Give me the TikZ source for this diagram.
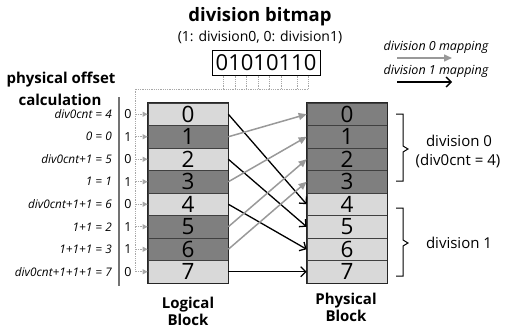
\documentclass[tikz,border=0pt]{standalone}
\usepackage{fontspec}
\setmainfont{Open Sans}
\usetikzlibrary{arrows.meta}
\definecolor{darkc}{HTML}{7F7F7F}
\definecolor{lightc}{HTML}{D9D9D9}
\definecolor{arrgray}{HTML}{999999}
\definecolor{dotgray}{HTML}{A8A8A8}
\begin{document}
\begin{tikzpicture}[x=1pt,y=-1pt,
  cell/.style={draw=black!75, line width=0.7pt, minimum width=80pt, minimum height=22.5pt, inner sep=0pt, text height=16pt, text depth=0pt, font=\fontsize{22.5}{22.5}\selectfont},
  offs/.style={anchor=east, font=\fontsize{11.8}{12}\selectfont\itshape, inner sep=0pt},
  bitc/.style={font=\fontsize{12.5}{12.5}\selectfont, inner sep=0pt},
  map0/.style={draw=arrgray, line width=1.5pt, -{Triangle[length=8pt,width=7pt]}},
  map1/.style={draw=black, line width=1.3pt, -{Straight Barb[length=5pt,width=10pt]}},
  feed/.style={draw=dotgray, densely dotted, line width=0.8pt, -{Triangle[length=5pt,width=5pt,fill=dotgray]}},
  bus/.style={draw=dotgray, densely dotted, line width=0.8pt},
  brk/.style={draw=black, line width=1pt},
  title/.style={font=\fontsize{18.5}{18.5}\selectfont\bfseries, inner sep=0pt},
  lbl/.style={font=\fontsize{15}{15}\selectfont\bfseries, inner sep=0pt, align=center},
  divtxt/.style={font=\fontsize{15}{15}\selectfont, inner sep=0pt},
  legtxt/.style={font=\fontsize{12.5}{12.5}\selectfont\itshape, inner sep=0pt}
]
\useasboundingbox (0,0) rectangle (505,332);

% titles
\node[title] (ttl) at (260,17) {division bitmap};
\node[font=\fontsize{14}{14}\selectfont, inner sep=0pt] (sub) at (260,37) {(1: division0, 0: division1)};
\node[draw=black, line width=1pt, minimum width=108pt, minimum height=25pt, inner sep=0pt,
      font=\fontsize{22}{22}\selectfont] (bm) at (266,62.5) {01010110};

\node[lbl] (poc1) at (61,80) {physical offset};
\node[lbl] (poc2) at (60,100) {calculation};

% legend
\node[legtxt] (leg0) at (436,47) {division 0 mapping};
\node[legtxt] (leg1) at (436,71) {division 1 mapping};
\coordinate (g0s) at (397,58); \coordinate (g0e) at (452,58);
\coordinate (g1s) at (397,82); \coordinate (g1e) at (452,82);
\draw[map0] (g0s) -- (g0e);
\draw[map1] (g1s) -- (g1e);

% blocks
\foreach \i/\f in {0/lightc,1/darkc,2/lightc,3/darkc,4/lightc,5/darkc,6/darkc,7/lightc}{
  \node[cell, fill=\f] (L\i) at (188,{114.25+22.5*\i}) {\i};
}
\foreach \i/\f in {0/darkc,1/darkc,2/darkc,3/darkc,4/lightc,5/lightc,6/lightc,7/lightc}{
  \node[cell, fill=\f] (R\i) at (347,{114.25+22.5*\i}) {\i};
}
\draw[line width=1.3pt, black!85] (L0.north west) rectangle (L7.south east);
\draw[line width=1.3pt, black!85] (R0.north west) rectangle (R7.south east);

\node[lbl] (lb) at (188,311) {Logical\\[2pt]Block};
\node[lbl] (pb) at (346,307) {Physical\\[2pt]Block};

% offsets and bits
\foreach \i/\t/\b in {0/{div0cnt = 4}/0, 1/{0 = 0}/1, 2/{div0cnt+1 = 5}/0, 3/{1 = 1}/1,
                      4/{div0cnt+1+1 = 6}/0, 5/{1+1 = 2}/1, 6/{1+1+1 = 3}/1, 7/{div0cnt+1+1+1 = 7}/0}{
  \node[offs] (o\i) at (112,{114.25+22.5*\i}) {\t};
  \node[bitc] (b\i) at (128,{114.25+22.5*\i}) {\b};
  \coordinate (f\i) at (136,{114.25+22.5*\i});
  \draw[feed] (f\i) -- (L\i.west);
}
\coordinate (vt) at (119,97); \coordinate (vb) at (119,286);
\draw[draw=black!55, line width=1.5pt] (vt) -- (vb);

% bus from bitmap
\coordinate (busL) at (135,89);
\coordinate (busR) at (308,89);
\coordinate (busB) at (135,272);
\draw[bus] (busR) -- (busL) -- (busB);
\foreach \x in {223,235,246.5,258,269.5,281,297,308}{
  \draw[bus] (bm.south -| \x,0) -- (\x,89);
}

% mappings
\draw[map1] (L0.east) -- (R4.west);
\draw[map1] (L2.east) -- (R5.west);
\draw[map1] (L4.east) -- (R6.west);
\draw[map1] (L7.east) -- (R7.west);
\draw[map0] (L1.east) -- (R0.west);
\draw[map0] (L3.east) -- (R1.west);
\draw[map0] (L5.east) -- (R2.west);
\draw[map0] (L6.east) -- (R3.west);

% brackets
\coordinate (a1) at (396,114); \coordinate (a2) at (403,114); \coordinate (a3) at (403,146);
\coordinate (a4) at (408,149); \coordinate (a5) at (403,152); \coordinate (a6) at (403,181); \coordinate (a7) at (396,181);
\draw[brk] (a1) -- (a2) -- (a3) -- (a4) -- (a5) -- (a6) -- (a7);
\coordinate (c1) at (396,208); \coordinate (c2) at (403,208); \coordinate (c3) at (403,240);
\coordinate (c4) at (408,243); \coordinate (c5) at (403,246); \coordinate (c6) at (403,276); \coordinate (c7) at (396,276);
\draw[brk] (c1) -- (c2) -- (c3) -- (c4) -- (c5) -- (c6) -- (c7);
\node[divtxt] (d0a) at (459,141) {division 0};
\node[divtxt] (d0b) at (458,161) {(div0cnt = 4)};
\node[divtxt] (d1) at (459,243) {division 1};
\end{tikzpicture}
\end{document}
